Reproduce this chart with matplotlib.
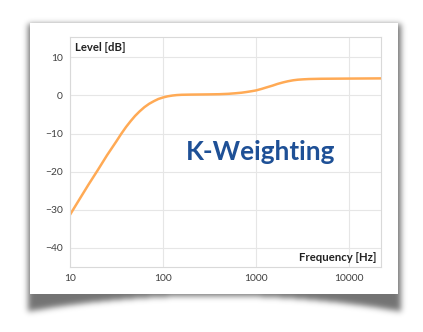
import matplotlib
matplotlib.use("Agg")
import matplotlib.pyplot as plt
from matplotlib.patches import Rectangle
import numpy as np

# K-weighting response, level in dB against frequency in Hz
freq_hz = [10, 12.6, 15.8, 20, 25, 31.6, 35.5, 40, 44.7, 50, 56, 63, 71, 80,
           89, 100, 112, 126, 141, 158, 200, 300, 400, 500, 600, 700, 800,
           900, 1000, 1150, 1300, 1500, 1700, 1950, 2200, 2500, 2800, 3200,
           3700, 5000, 10000, 22000]
level_db = [-31.3, -27.3, -23.4, -19.5, -15.7, -12.0, -10.1, -8.3, -6.8, -5.4,
            -4.2, -3.1, -2.2, -1.5, -0.95, -0.55, -0.25, -0.05, 0.08, 0.15,
            0.2, 0.25, 0.3, 0.4, 0.55, 0.7, 0.9, 1.1, 1.3, 1.7, 2.1, 2.55,
            3.0, 3.4, 3.7, 3.95, 4.1, 4.2, 4.28, 4.35, 4.4, 4.45]

x_ticks = [10, 100, 1000, 10000]
y_ticks = [-40, -30, -20, -10, 0, 10]

W, H = 423, 332
fig = plt.figure(figsize=(W / 100, H / 100), dpi=100)
fig.patch.set_facecolor("white")

# background: white card with a soft curled shadow
bg = fig.add_axes([0, 0, 1, 1], zorder=0)
bg.set_xlim(0, W)
bg.set_ylim(H, 0)
bg.axis("off")

yy, xx = np.mgrid[0:H, 0:W]
u = (xx - 214) / 186.0
bottom = 295 + 16 * u ** 2
mask = ((xx >= 28) & (xx <= 400) & (yy >= 24) & (yy <= bottom)).astype(float)
k = np.arange(-10, 11)
kern = np.exp(-k ** 2 / (2 * 3.0 ** 2))
kern /= kern.sum()
mask = np.apply_along_axis(lambda r: np.convolve(r, kern, mode="same"), 1, mask)
mask = np.apply_along_axis(lambda c: np.convolve(c, kern, mode="same"), 0, mask)
shadow = np.zeros((H, W, 4))
shadow[..., 3] = mask * 0.55
bg.imshow(shadow, extent=(0, W, H, 0), interpolation="bilinear", zorder=1)
bg.add_patch(Rectangle((30, 23), 368, 271, facecolor="white", edgecolor="none", zorder=2))

# chart
ax = fig.add_axes([70 / W, 1 - 267 / H, 311 / W, 230 / H], zorder=1)
ax.set_facecolor("white")
ax.plot(freq_hz, level_db, color="#FFAA55", linewidth=1.8,
        solid_capstyle="round", solid_joinstyle="round")
ax.set_xscale("log")
ax.set_xlim(10, 22000)
ax.set_ylim(-45, 15.3)
ax.set_xticks(x_ticks)
ax.set_xticklabels([str(t) for t in x_ticks])
ax.minorticks_off()
ax.set_yticks(y_ticks)
ax.set_yticklabels(["\u221240", "\u221230", "\u221220", "\u221210", "0", "10"])
ax.grid(True, color="#E6E6E6", linewidth=0.8)
ax.set_axisbelow(True)
ax.tick_params(length=0, labelsize=7.4, labelcolor="#404040", pad=5)
for lab in ax.get_xticklabels() + ax.get_yticklabels():
    lab.set_family("Lato")
for s in ax.spines.values():
    s.set_color("#D9D9D9")
    s.set_linewidth(0.8)

ax.text(0.016, 0.955, "Level [dB]", transform=ax.transAxes, ha="left", va="center",
        fontsize=8.2, fontweight="bold", color="#222222", family="Lato")
ax.text(0.985, 0.04, "Frequency [Hz]", transform=ax.transAxes, ha="right", va="center",
        fontsize=8.2, fontweight="bold", color="#222222", family="Lato")
ax.text(0.614, 0.5, "K-Weighting", transform=ax.transAxes, ha="center", va="center",
        fontsize=18.8, fontweight="bold", color="#1E5096", family="Lato")

fig.savefig("out.png", dpi=100, facecolor="white")
